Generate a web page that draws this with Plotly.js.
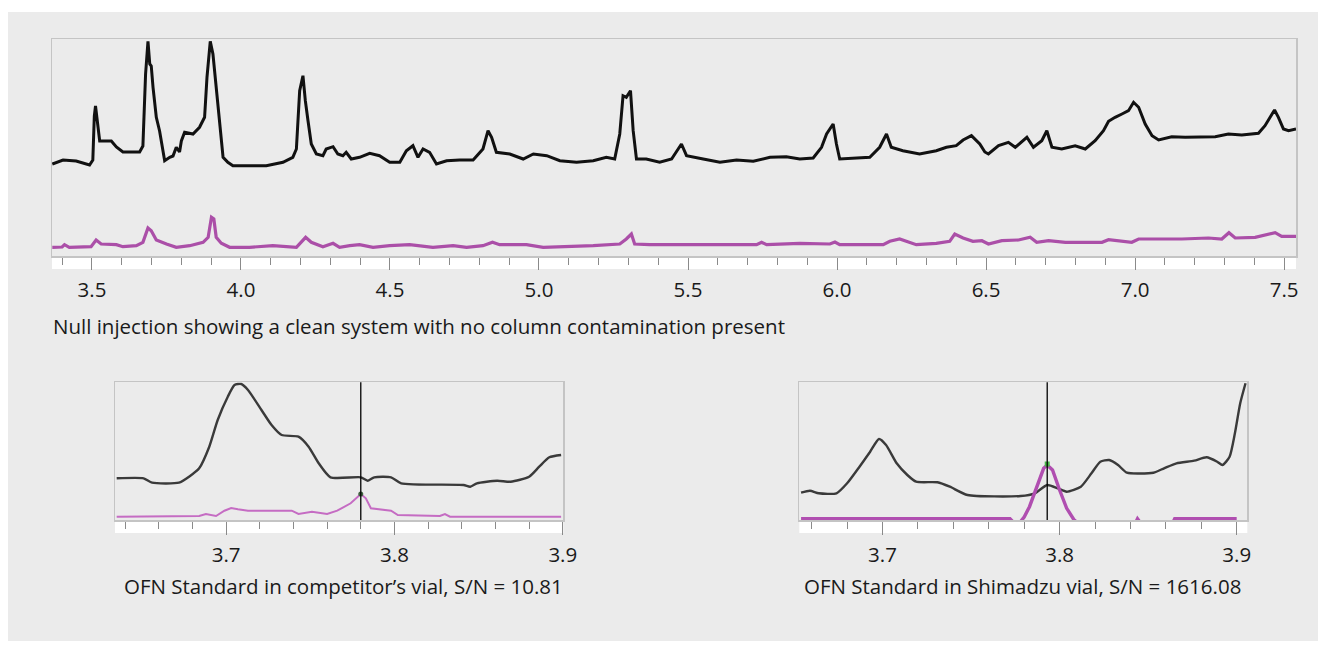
<!DOCTYPE html>
<html>
<head>
<meta charset="utf-8">
<script src="https://cdn.plot.ly/plotly-3.0.1.min.js"></script>
<style>html,body{margin:0;padding:0;background:#fff;}#chart{width:1326px;height:645px;}</style>
</head>
<body>
<div id="chart"></div>
<script>
// ---------- DATA ----------
// Null injection, full run (minutes vs. relative intensity)
const nullTimeBlack = [3.367,3.403,3.447,3.492,3.503,3.508,3.512,3.516,3.520,3.526,3.537,3.565,3.582,3.604,3.626,3.660,3.671,3.680,3.688,3.694,3.699,3.705,3.716,3.727,3.744,3.761,3.772,3.783,3.794,3.800,3.811,3.839,3.861,3.878,3.886,3.897,3.906,3.917,3.928,3.940,3.956,3.973,4.029,4.085,4.141,4.174,4.186,4.197,4.208,4.216,4.225,4.236,4.253,4.275,4.286,4.309,4.325,4.342,4.353,4.370,4.398,4.432,4.465,4.499,4.533,4.555,4.577,4.594,4.611,4.633,4.656,4.690,4.734,4.779,4.812,4.829,4.841,4.857,4.902,4.947,4.981,5.026,5.070,5.126,5.182,5.226,5.254,5.271,5.282,5.293,5.307,5.316,5.327,5.360,5.405,5.445,5.478,5.495,5.551,5.607,5.663,5.719,5.775,5.830,5.875,5.920,5.948,5.965,5.987,5.998,6.009,6.054,6.110,6.143,6.166,6.182,6.221,6.277,6.333,6.367,6.400,6.423,6.451,6.479,6.496,6.508,6.542,6.575,6.598,6.637,6.659,6.687,6.704,6.721,6.754,6.799,6.833,6.866,6.894,6.911,6.933,6.956,6.978,6.995,7.012,7.034,7.057,7.079,7.123,7.168,7.224,7.269,7.313,7.358,7.414,7.436,7.468,7.481,7.498,7.515,7.540];
const nullSignalBlack = [92,96,95,91,96,140,150,140,132,115,115,115,109,104,104,104,110,182,214.7,192,190,168.7,138.7,125,95.3,98.7,100,108.7,104,115,123.7,122,128.7,138.7,178.7,214.7,202,168.7,135.3,98.7,93.7,90.3,90.3,90.3,93.7,98.7,107,165.3,180.3,155.3,135.3,112,102,100.3,107,109.3,102,100.3,103.7,97,98.7,102.7,100.3,93.7,93.7,105.3,110.3,98.7,107,103.7,92,95.3,96,96,107,125.3,118.7,103.7,102,97,102,100.3,95.3,93.7,95.3,98.7,97,122,160.3,158.7,165.3,125.3,97,97,93.7,97,112,100.3,97,93.7,96,94.7,98.7,99.3,97,98,108.7,122,132,112,97,98,98.7,108.7,122,108.7,105.3,102,105.3,108.7,110.3,116,120.3,112,104,102,110.3,113.7,108.7,118.7,108.7,115.3,125.3,108.7,107,110.3,107,115.3,125.3,134.7,138.7,142,145.3,153.7,148.7,132,120.3,116,119.3,118.7,118.7,119.3,122,121,122.7,130.3,146,138.7,127,125.3,127];

const nullTimeMagenta = [3.367,3.400,3.408,3.424,3.497,3.514,3.531,3.582,3.604,3.649,3.671,3.688,3.699,3.716,3.750,3.783,3.828,3.873,3.890,3.901,3.909,3.917,3.934,3.962,4.029,4.107,4.186,4.202,4.217,4.236,4.275,4.309,4.331,4.365,4.398,4.443,4.499,4.566,4.644,4.712,4.757,4.812,4.844,4.868,4.958,5.014,5.093,5.182,5.271,5.293,5.310,5.321,5.371,5.450,5.551,5.730,5.747,5.764,5.875,5.976,5.993,6.009,6.155,6.177,6.210,6.233,6.266,6.333,6.378,6.395,6.423,6.456,6.486,6.508,6.553,6.609,6.648,6.670,6.710,6.766,6.889,6.911,6.956,6.989,7.012,7.157,7.246,7.291,7.315,7.336,7.403,7.470,7.492,7.540];
const nullSignalMagenta = [8.7,9,11.3,8.7,9.3,16,12,11.3,9.3,10.3,13.7,28,25.3,16,12,8.7,10.3,13.7,18.7,38.7,37,18.7,12.7,8.7,8.7,10.3,8.7,13.7,18.7,13.7,9.3,12.7,8.7,10.3,11.3,8.7,10.3,11.3,8.7,10.3,8.7,10.3,13.7,11.3,11.3,8.7,9.3,10.3,12,17,22,12,11.3,11.3,11.3,11.3,13.7,11.3,12.7,12,14,11.3,11.3,14.7,17,14.7,11.3,12.7,14.7,22,18,14.7,15.3,12,15.3,16,18.7,13.7,15.3,13.7,13.7,16.3,14.7,13.7,17,17,18,17,23.3,18,18.7,23.3,19.7,19.7];

// OFN standard in competitor's vial (zoom 3.63 - 3.90 min)
const compTimeBlack = [3.635,3.651,3.656,3.672,3.678,3.684,3.690,3.695,3.701,3.705,3.709,3.713,3.721,3.727,3.733,3.743,3.749,3.755,3.762,3.780,3.784,3.788,3.798,3.804,3.841,3.845,3.849,3.861,3.869,3.880,3.886,3.892,3.899];
const compSignalBlack = [41.7,41.7,37.3,37.3,43.3,51.7,73.3,100,123.3,135,136,130,110,95,85,83.3,73.3,56.7,42.7,42.7,39.3,42.7,42.7,36.7,35,33.3,36.7,39.3,38.3,43.3,53.3,62.7,65];
const compTimeMagenta = [3.635,3.684,3.688,3.694,3.699,3.703,3.707,3.713,3.739,3.743,3.751,3.760,3.766,3.774,3.780,3.783,3.786,3.798,3.802,3.827,3.830,3.833,3.899];
const compSignalMagenta = [3.3,4,6,4,9.3,12,10.7,9.3,9.3,6,8.3,6,9.3,16.7,26,21.7,11.7,9.3,5,4,6,3.3,3.3];
const compCursor = 3.780;
const compApex = [26];

// OFN standard in Shimadzu vial (zoom 3.65 - 3.91 min)
const shimTimeBlack = [3.654,3.659,3.664,3.674,3.680,3.687,3.693,3.698,3.702,3.708,3.714,3.719,3.731,3.738,3.748,3.778,3.786,3.793,3.799,3.804,3.812,3.818,3.823,3.828,3.833,3.838,3.853,3.859,3.866,3.876,3.883,3.889,3.892,3.896,3.899,3.902,3.905];
const shimSignalBlack = [27.3,29.3,26.7,26.7,36.7,53.3,68.3,81,75,56.7,45,38.3,37.7,33.3,25,24,26.7,35,31.7,28.3,33.3,46.7,58.3,60,55,47.3,47.3,51.7,56.7,59.3,62.7,58.3,55,63.3,86.7,116.7,136.7];
const shimTimeMagenta = [3.654,3.772,3.776,3.780,3.783,3.787,3.791,3.793,3.796,3.800,3.804,3.808,3.812,3.842,3.844,3.847,3.863,3.865,3.900];
const shimSignalMagenta = [1.2,1.2,-6,3,13.3,33.3,51.7,55,50,30,11.7,0.5,-6,-6,1.2,-6,-6,1.2,1.2];
const shimCursor = 3.793;
const shimApex = [56];

const topTicks = {tick0: 3.5, dtick: 0.5, minor: 0.1};
const zoomTicks = {tick0: 3.7, dtick: 0.1, minor: 0.02};

const captionTop = 'Null injection showing a clean system with no column contamination present';
const captionLeft = 'OFN Standard in competitor\u2019s vial, S/N = 10.81';
const captionRight = 'OFN Standard in Shimadzu vial, S/N = 1616.08';

// ---------- LAYOUT HELPERS ----------
const W = 1326, H = 645;
const px = v => v / W;
const py = v => 1 - v / H;
const FONT = 'Open Sans, "Noto Sans", sans-serif';
const FS = 20.5;
const lineGray = '#c4c4c4';
const tickGray = '#8a8a8a';

function xAxis(domain, range, t, anchor, ticklen) {
  return {
    domain: domain, range: range, anchor: anchor,
    showline: true, mirror: true, linecolor: lineGray, linewidth: 1.5,
    showgrid: false, zeroline: false,
    ticks: 'outside', tick0: t.tick0, dtick: t.dtick, ticklen: ticklen, tickwidth: 1, tickcolor: tickGray,
    tickformat: '.1f', ticklabelstandoff: 3,
    tickfont: {family: FONT, size: FS, color: '#1a1a1a'},
    minor: {ticks: 'outside', dtick: t.minor, ticklen: Math.round(ticklen * 0.55), tickwidth: 1, tickcolor: tickGray, showgrid: false},
    fixedrange: true
  };
}
function yAxis(domain, range, anchor) {
  return {
    domain: domain, range: range, anchor: anchor,
    showline: true, mirror: true, linecolor: lineGray, linewidth: 1.5,
    showgrid: false, zeroline: false, showticklabels: false, ticks: '',
    fixedrange: true
  };
}

const traces = [
  {x: nullTimeBlack, y: nullSignalBlack, xaxis: 'x', yaxis: 'y', mode: 'lines', line: {color: '#111', width: 3}, hoverinfo: 'skip'},
  {x: nullTimeMagenta, y: nullSignalMagenta, xaxis: 'x', yaxis: 'y', mode: 'lines', line: {color: '#ab4fa8', width: 3.2}, hoverinfo: 'skip'},
  {x: compTimeBlack, y: compSignalBlack, xaxis: 'x2', yaxis: 'y2', mode: 'lines', line: {color: '#3a3a3a', width: 2.4, shape: 'spline', smoothing: 0.6}, hoverinfo: 'skip'},
  {x: compTimeMagenta, y: compSignalMagenta, xaxis: 'x2', yaxis: 'y2', mode: 'lines', line: {color: '#c56cc3', width: 2}, hoverinfo: 'skip'},
  {x: [compCursor], y: compApex, xaxis: 'x2', yaxis: 'y2', mode: 'markers', marker: {color: '#3f5f3f', size: 5}, hoverinfo: 'skip'},
  {x: shimTimeBlack, y: shimSignalBlack, xaxis: 'x3', yaxis: 'y3', mode: 'lines', line: {color: '#3a3a3a', width: 2.4, shape: 'spline', smoothing: 0.6}, hoverinfo: 'skip'},
  {x: shimTimeMagenta, y: shimSignalMagenta, xaxis: 'x3', yaxis: 'y3', mode: 'lines', line: {color: '#b04eb0', width: 3.4}, hoverinfo: 'skip'},
  {x: [shimCursor], y: shimApex, xaxis: 'x3', yaxis: 'y3', mode: 'markers', marker: {color: '#49b949', size: 5, symbol: 'square'}, hoverinfo: 'skip'}
];

const topDomX = [px(52), px(1296)], topDomY = [py(256), py(39)];
const lDomX = [px(115), px(563.3)], rDomX = [px(799.3), px(1247.3)], sDomY = [py(520), py(382.3)];

const layout = {
  width: W, height: H,
  margin: {l: 0, r: 0, t: 0, b: 0},
  paper_bgcolor: '#ffffff', plot_bgcolor: '#ffffff',
  showlegend: false,
  font: {family: FONT, color: '#1a1a1a'},
  xaxis: xAxis(topDomX, [3.366, 7.540], topTicks, 'y', 12),
  yaxis: yAxis(topDomY, [0, 217], 'x'),
  xaxis2: xAxis(lDomX, [3.634, 3.9003], zoomTicks, 'y2', 13),
  yaxis2: yAxis(sDomY, [0, 137.7], 'x2'),
  xaxis3: xAxis(rDomX, [3.653, 3.906], zoomTicks, 'y3', 13),
  yaxis3: yAxis(sDomY, [0, 137.7], 'x3'),
  shapes: [
    {type: 'rect', xref: 'paper', yref: 'paper', x0: px(8), x1: px(1318), y0: py(641), y1: py(12), fillcolor: '#ebebeb', line: {width: 0}, layer: 'below'},
    {type: 'rect', xref: 'paper', yref: 'paper', x0: topDomX[0], x1: topDomX[1], y0: py(269), y1: topDomY[0], fillcolor: '#ffffff', line: {width: 0}, layer: 'below'},
    {type: 'rect', xref: 'paper', yref: 'paper', x0: lDomX[0], x1: lDomX[1], y0: py(533), y1: sDomY[0], fillcolor: '#ffffff', line: {width: 0}, layer: 'below'},
    {type: 'rect', xref: 'paper', yref: 'paper', x0: rDomX[0], x1: rDomX[1], y0: py(533), y1: sDomY[0], fillcolor: '#ffffff', line: {width: 0}, layer: 'below'},
    {type: 'line', xref: 'x2', yref: 'y2 domain', x0: compCursor, x1: compCursor, y0: 0, y1: 1, line: {color: '#000', width: 1.3}},
    {type: 'line', xref: 'x3', yref: 'y3 domain', x0: shimCursor, x1: shimCursor, y0: 0, y1: 1, line: {color: '#000', width: 1.3}}
  ],
  annotations: [
    {text: captionTop, xref: 'paper', yref: 'paper', x: px(51), y: py(326), xanchor: 'left', yanchor: 'middle', showarrow: false, font: {family: FONT, size: FS, color: '#1a1a1a'}},
    {text: captionLeft, xref: 'paper', yref: 'paper', x: px(343), y: py(586), xanchor: 'center', yanchor: 'middle', showarrow: false, font: {family: FONT, size: FS, color: '#1a1a1a'}},
    {text: captionRight, xref: 'paper', yref: 'paper', x: px(1022), y: py(586), xanchor: 'center', yanchor: 'middle', showarrow: false, font: {family: FONT, size: FS, color: '#1a1a1a'}}
  ]
};

Plotly.newPlot('chart', traces, layout, {staticPlot: true, displayModeBar: false});
</script>
</body>
</html>
